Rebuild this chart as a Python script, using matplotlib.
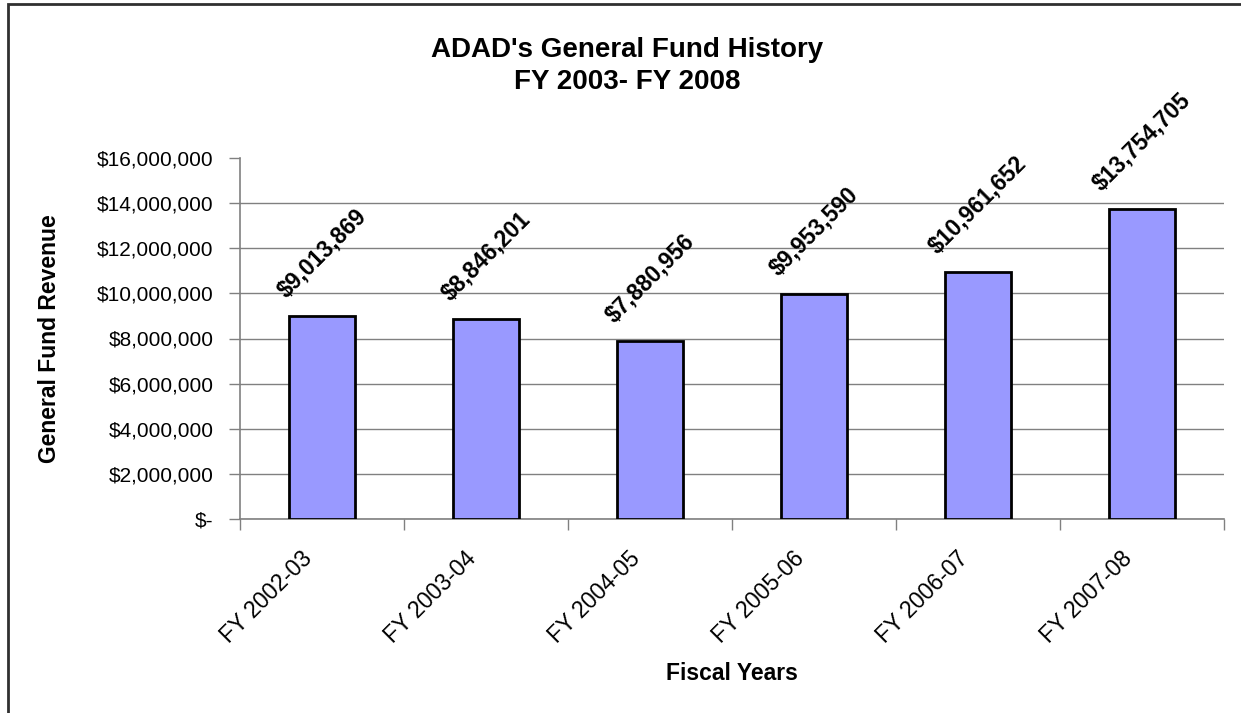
import matplotlib
matplotlib.use('Agg')
import matplotlib.pyplot as plt
from matplotlib.patches import Rectangle
from matplotlib.ticker import FuncFormatter
from matplotlib.transforms import ScaledTranslation

plt.rcParams['font.family'] = ['Liberation Sans', 'DejaVu Sans']

years = ['FY 2002-03', 'FY 2003-04', 'FY 2004-05', 'FY 2005-06', 'FY 2006-07', 'FY 2007-08']
revenue = [9013869, 8846201, 7880956, 9953590, 10961652, 13754705]
y_ticks = [0, 2000000, 4000000, 6000000, 8000000, 10000000, 12000000, 14000000, 16000000]

fig = plt.figure(figsize=(12.41, 7.13), dpi=100)
ax = fig.add_axes([240 / 1241, 1 - 519 / 713, 984 / 1241, 361 / 713])

x = range(len(years))
ax.bar(x, revenue, width=0.4, color='#9999FF', edgecolor='black', linewidth=2, zorder=3)

for i, v in enumerate(revenue):
    ax.annotate('${:,.0f}'.format(v), (i, v), xytext=(0, 10), textcoords='offset points',
                ha='center', va='bottom', rotation=45, fontsize=16.5, fontweight='bold')

ax.set_xlim(-0.5, len(years) - 0.5)
ax.set_ylim(0, 16000000)
ax.set_yticks(y_ticks)
ax.yaxis.set_major_formatter(FuncFormatter(lambda v, p: '$-' if v == 0 else '${:,.0f}'.format(v)))
ax.tick_params(axis='y', length=8, width=1, color='#808080', labelsize=15, pad=11)

ax.set_xticks(list(x))
ax.set_xticklabels(years, rotation=45, ha='right', rotation_mode='anchor', fontsize=16.5)
ax.set_xticks([i - 0.5 for i in range(len(years) + 1)], minor=True)
ax.tick_params(axis='x', which='major', length=0, pad=20)
ax.tick_params(axis='x', which='minor', length=8, width=1, color='#808080')

# nudge the slanted category labels left so they end under the bar centres
shift = ScaledTranslation(-0.21, 0, fig.dpi_scale_trans)
for lbl in ax.get_xticklabels():
    lbl.set_transform(lbl.get_transform() + shift)

ax.yaxis.grid(True, color='#808080', linewidth=1, zorder=0)
ax.yaxis.get_gridlines()[-1].set_visible(False)
ax.set_axisbelow(True)

for side in ['top', 'right']:
    ax.spines[side].set_visible(False)
for side in ['left', 'bottom']:
    ax.spines[side].set_color('#808080')
    ax.spines[side].set_linewidth(1.2)

fig.text(627 / 1241, 1 - 57 / 713, "ADAD's General Fund History", ha='center', va='baseline',
         fontsize=20, fontweight='bold')
fig.text(627 / 1241, 1 - 89 / 713, 'FY 2003- FY 2008', ha='center', va='baseline',
         fontsize=20, fontweight='bold')
fig.text(50 / 1241, 0.525, 'General Fund Revenue', rotation=90, ha='center', va='center',
         fontsize=16.5, fontweight='bold')
fig.text(732 / 1241, 1 - 680 / 713, 'Fiscal Years', ha='center', va='baseline',
         fontsize=16.5, fontweight='bold')

# outer chart border
fig.patches.append(Rectangle((8 / 1241, -0.05), 1.2, 1 - 4 / 713 + 0.05, transform=fig.transFigure,
                             fill=False, edgecolor='#303030', linewidth=2))

fig.savefig('out.png', dpi=100)
